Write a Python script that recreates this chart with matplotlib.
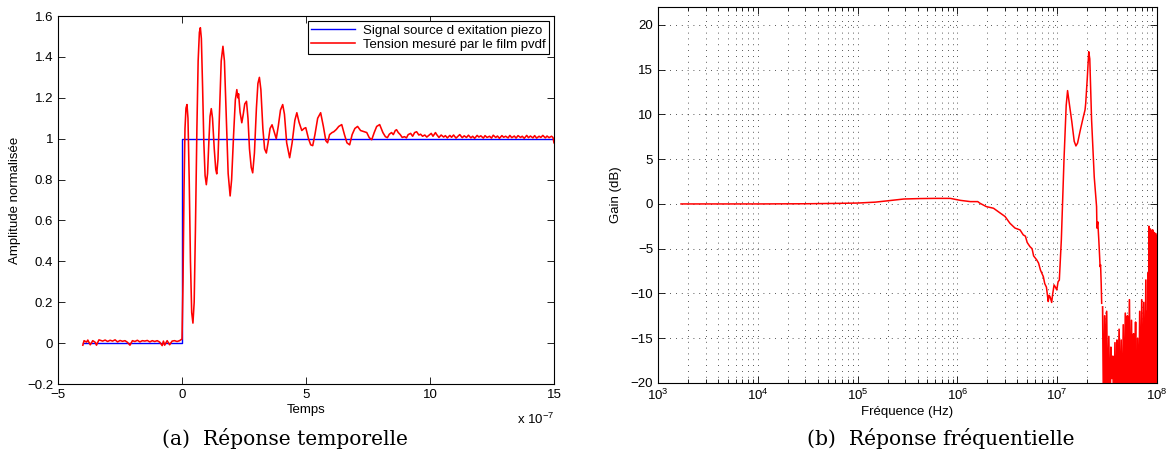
import matplotlib
matplotlib.use("Agg")
import matplotlib.pyplot as plt
from matplotlib.ticker import FuncFormatter, LogLocator, NullFormatter

plt.rcParams['font.family'] = ['Liberation Sans', 'DejaVu Sans']
plt.rcParams['mathtext.fontset'] = 'custom'
plt.rcParams['mathtext.rm'] = 'Liberation Sans'
plt.rcParams['mathtext.it'] = 'Liberation Sans:italic'

# ---- (a) time response, time in units of 1e-7 s ----
t_source = [-4.0, 0.0, 0.0, 15.0]
v_source = [0.0, 0.0, 1.0, 1.0]

t_pvdf = [-4.0, -3.95, -3.85, -3.8, -3.7, -3.6, -3.5, -3.45, -3.35, -3.2,
          -3.1, -3.0, -2.9, -2.8, -2.7, -2.6, -2.5, -2.4, -2.3, -2.2,
          -2.1, -2.0, -1.9, -1.8, -1.7, -1.6, -1.5, -1.4, -1.3, -1.2,
          -1.1, -1.0, -0.9, -0.8, -0.75, -0.7, -0.6, -0.5, -0.4, -0.3,
          -0.2, -0.1, 0.0,
          0.04, 0.08, 0.12, 0.16, 0.2, 0.24, 0.29, 0.34, 0.39, 0.44,
          0.49, 0.54, 0.6, 0.65, 0.7, 0.74, 0.78, 0.83, 0.88, 0.93,
          0.98, 1.03, 1.08, 1.13, 1.18, 1.23, 1.3, 1.36, 1.40, 1.45,
          1.52, 1.58, 1.65, 1.71, 1.78, 1.86, 1.94, 2.0, 2.08, 2.15,
          2.21, 2.25, 2.28, 2.34, 2.41, 2.47, 2.53, 2.6, 2.66, 2.72,
          2.79, 2.85, 2.92, 3.0, 3.06, 3.12, 3.18, 3.26, 3.33, 3.40,
          3.47, 3.55, 3.63, 3.7, 3.8, 3.88, 3.97, 4.06, 4.13, 4.22,
          4.34, 4.44, 4.55, 4.63, 4.72, 4.83, 4.92, 4.99, 5.1, 5.19,
          5.27, 5.36, 5.47, 5.59, 5.7, 5.8, 5.87, 5.95, 6.05, 6.12,
          6.22, 6.32, 6.44, 6.55, 6.65, 6.76, 6.86, 6.97, 7.08, 7.2,
          7.32, 7.45, 7.55, 7.65, 7.75, 7.85, 7.97, 8.1, 8.2,
          8.28, 8.36, 8.45, 8.52, 8.6, 8.65, 8.72, 8.8, 8.88, 8.97,
          9.05, 9.12, 9.22, 9.3, 9.38, 9.46, 9.55, 9.62, 9.7, 9.79,
          9.87, 9.95, 10.05, 10.12, 10.22, 10.27, 10.36, 10.45, 10.55, 10.62,
          10.7, 10.8, 10.87, 10.95, 11.05, 11.13, 11.2, 11.3, 11.38, 11.47,
          11.55, 11.65, 11.72, 11.8, 11.9, 11.97, 12.05, 12.15, 12.22, 12.3,
          12.4, 12.48, 12.55, 12.65, 12.72, 12.8, 12.9, 12.97, 13.05, 13.15,
          13.22, 13.3, 13.4, 13.47, 13.55, 13.65, 13.72, 13.8, 13.9, 13.97,
          14.05, 14.15, 14.22, 14.3, 14.4, 14.47, 14.55, 14.65, 14.72, 14.8,
          14.9, 14.96, 15.0]
v_pvdf = [-0.01, 0.012, 0.005, 0.015, -0.008, 0.012, 0.004, -0.01, 0.016, 0.01,
          0.015, 0.008, 0.014, 0.01, 0.016, 0.006, 0.013, 0.009, 0.012, 0.004,
          -0.01, 0.012, 0.008, 0.014, 0.006, 0.012, 0.01, 0.013, 0.006, 0.012,
          0.008, 0.012, 0.005, -0.012, 0.01, -0.01, 0.012, -0.008, 0.01, 0.012,
          0.008, 0.012, 0.02,
          0.3, 0.75, 1.05, 1.15, 1.167, 1.1, 0.8, 0.4, 0.15, 0.098,
          0.2, 0.55, 1.05, 1.38, 1.52, 1.543, 1.49, 1.25, 0.98, 0.82,
          0.775, 0.83, 0.98, 1.11, 1.147, 1.1, 0.95, 0.85, 0.828, 0.9,
          1.15, 1.38, 1.452, 1.38, 1.12, 0.83, 0.72, 0.8, 1.02, 1.19,
          1.24, 1.2, 1.22, 1.13, 1.078, 1.12, 1.17, 1.183, 1.1, 0.95,
          0.86, 0.833, 0.93, 1.15, 1.27, 1.30, 1.24, 1.05, 0.95, 0.93,
          0.98, 1.05, 1.068, 1.04, 1.0, 1.06, 1.14, 1.167, 1.12, 0.98,
          0.907, 0.98, 1.09, 1.127, 1.08, 1.04, 1.05, 1.054, 1.0, 0.97,
          0.966, 1.02, 1.1, 1.127, 1.06, 0.99, 0.98, 1.02, 1.03, 1.034,
          1.045, 1.06, 1.069, 1.02, 0.98, 0.97, 1.02, 1.05, 1.06, 1.04,
          1.035, 1.03, 1.005, 0.995, 1.03, 1.06, 1.069, 1.03, 1.01,
          1.005, 1.022, 1.03, 1.02, 1.04, 1.044, 1.03, 1.02, 1.006, 1.01,
          1.004, 1.02, 1.026, 1.012, 1.03, 1.034, 1.018, 1.022, 1.012, 1.018,
          1.008, 1.016, 1.026, 1.012, 1.03, 1.02, 1.006, 1.018, 1.008, 1.015,
          1.004, 1.016, 1.007, 1.018, 1.003, 1.012, 1.02, 1.005, 1.014, 1.006,
          1.017, 1.004, 1.012, 1.002, 1.016, 1.008, 1.014, 1.003, 1.015, 1.006,
          1.012, 1.003, 1.017, 1.006, 1.013, 1.002, 1.015, 1.007, 1.012, 1.004,
          1.016, 1.005, 1.013, 1.003, 1.015, 1.006, 1.012, 1.002, 1.016, 1.005,
          1.013, 1.004, 1.015, 1.003, 1.012, 1.006, 1.016, 1.004, 1.013, 1.005,
          1.012, 1.006, 0.98]

# ---- (b) frequency response ----
freq_hz = [1.7e3, 1e4, 3e4, 6e4, 1e5, 1.5e5, 2e5, 2.9e5, 4.2e5, 6e5,
           8.5e5, 1.07e6, 1.35e6, 1.6e6, 1.68e6, 1.95e6, 2.3e6, 2.67e6, 3.0e6, 3.36e6,
           3.78e6, 4.24e6, 4.57e6, 4.8e6, 5.0e6, 5.33e6, 5.6e6, 5.8e6, 6.24e6, 6.5e6,
           6.8e6, 7.26e6, 7.5e6, 7.8e6, 8.0e6, 8.13e6, 8.3e6, 8.5e6, 8.8e6, 9.0e6,
           9.3e6, 9.6e6, 9.9e6, 1.02e7, 1.05e7, 1.1e7, 1.17e7, 1.23e7, 1.27e7, 1.33e7,
           1.4e7, 1.48e7, 1.54e7, 1.6e7, 1.7e7, 1.83e7, 1.9e7, 1.93e7, 2.0e7, 2.07e7,
           2.12e7, 2.21e7, 2.35e7, 2.48e7, 2.5e7, 2.55e7, 2.61e7, 2.65e7, 2.69e7, 2.72e7,
           2.76e7, 2.79e7]
gain_db = [0.0, 0.0, 0.02, 0.06, 0.1, 0.2, 0.35, 0.55, 0.6, 0.62,
           0.62, 0.4, 0.26, 0.26, 0.08, -0.3, -0.48, -1.0, -1.4, -2.16,
           -2.7, -2.9, -3.46, -3.6, -4.3, -4.77, -5.0, -5.8, -6.26, -6.6,
           -7.4, -8.12, -8.9, -9.3, -10.3, -10.9, -10.2, -10.4, -11.0, -10.1,
           -9.05, -9.3, -9.6, -8.7, -8.5, -4.0, 5.0, 11.0, 12.66, 11.0,
           9.2, 7.0, 6.48, 6.8, 8.2, 9.76, 10.5, 11.25, 14.0, 17.0,
           16.2, 9.39, 3.0, -0.3, -2.7, -2.0, -4.0, -5.5, -7.0, -6.8,
           -9.0, -11.1]

# noisy tail above ~28 MHz (MHz, dB)
noise_mhz = [28.5, 29.2, 29.9, 30.6, 31.3, 32.1, 32.9, 33.7, 34.5, 35.3,
             36.1, 37.0, 37.9, 38.8, 39.7, 40.7, 41.7, 42.7, 43.7, 44.8,
             45.9, 47.0, 48.1, 49.3, 50.5, 51.7, 52.9, 54.2, 55.5, 56.8,
             58.2, 59.6, 61.0, 62.5, 64.0, 65.5, 67.1, 68.7, 70.3, 72.0,
             73.7, 75.5, 77.3, 79.0, 80.0, 80.8, 81.5, 82.2, 82.9, 83.6,
             84.3, 85.0, 85.8, 86.5, 87.3, 88.1, 88.9, 89.6, 90.4, 91.2,
             92.0, 92.8, 93.6, 94.4, 95.2, 96.0, 96.8, 97.6, 98.4, 99.2,
             100.0]
noise_db = [-11.5, -25, -12.5, -21, -12.0, -25, -14.8, -25, -16.0, -19.5,
            -17.0, -25, -15.5, -25, -15.2, -21, -14.0, -25, -15.2, -25,
            -13.5, -25, -12.2, -20, -12.5, -25, -10.7, -25, -13.0, -25,
            -14.5, -20.5, -13.2, -25, -15.0, -25, -12.0, -25, -10.7, -25,
            -11.0, -25, -8.5, -25, -12.0, -24, -7.7, -24, -2.5, -24,
            -4.5, -24, -2.8, -24, -3.0, -24, -3.5, -24, -2.9, -24,
            -4.0, -24, -3.2, -24, -3.6, -24, -3.3, -24, -3.6, -24,
            -3.6]

fs = 9.5


def matlab_fmt(val, pos):
    return ('%g' % val).replace('-', '\u2212')


fig = plt.figure(figsize=(11.7, 4.69), dpi=100)

ax1 = fig.add_axes([0.0496, 0.1812, 0.4239, 0.7846])
ax1.plot(t_source, v_source, color='#0000ff', lw=1.0, label='Signal source d exitation piezo')
ax1.plot(t_pvdf, v_pvdf, color='#ff0000', lw=1.15, label='Tension mesuré par le film pvdf')
ax1.set_xlim(-5, 15)
ax1.set_ylim(-0.2, 1.6)
ax1.set_xticks([-5, 0, 5, 10, 15])
ax1.set_yticks([-0.2, 0, 0.2, 0.4, 0.6, 0.8, 1.0, 1.2, 1.4, 1.6])
ax1.xaxis.set_major_formatter(FuncFormatter(matlab_fmt))
ax1.yaxis.set_major_formatter(FuncFormatter(matlab_fmt))
ax1.tick_params(direction='in', top=True, right=True, length=5, width=0.6, labelsize=fs)
ax1.set_xlabel('Temps', fontsize=fs, labelpad=2)
ax1.set_ylabel('Amplitude normalisée', fontsize=fs, labelpad=4)
ax1.text(1.0, -0.095, 'x 10$^{-7}$', transform=ax1.transAxes, ha='right', va='center', fontsize=fs)
leg = ax1.legend(loc='upper right', fontsize=fs, fancybox=False, edgecolor='k', framealpha=1,
                 borderaxespad=0.4, handlelength=3.3, labelspacing=0.15, borderpad=0.25,
                 handletextpad=0.6)
leg.get_frame().set_linewidth(0.8)

ax2 = fig.add_axes([0.5624, 0.1834, 0.4265, 0.8017])
ax2.semilogx(freq_hz, gain_db, color='#ff0000', lw=1.1)
ax2.semilogx([m * 1e6 for m in noise_mhz], noise_db, color='#ff0000', lw=1.2)
ax2.set_xlim(1e3, 1e8)
ax2.set_ylim(-20, 22)
ax2.set_yticks([-20, -15, -10, -5, 0, 5, 10, 15, 20])
ax2.yaxis.set_major_formatter(FuncFormatter(matlab_fmt))
ax2.xaxis.set_major_locator(LogLocator(base=10, numticks=10))
ax2.xaxis.set_minor_locator(LogLocator(base=10, subs=range(2, 10), numticks=50))
ax2.xaxis.set_minor_formatter(NullFormatter())
ax2.tick_params(which='both', direction='in', top=True, right=True, width=0.6, labelsize=fs)
ax2.tick_params(which='major', length=5)
ax2.tick_params(which='minor', length=3)
grid_style = dict(color='#202020', lw=0.6, linestyle=(0, (1, 6)))
ax2.grid(True, which='major', axis='both', **grid_style)
ax2.grid(True, which='minor', axis='x', **grid_style)
ax2.set_axisbelow(True)
ax2.set_xlabel('Fréquence (Hz)', fontsize=fs, labelpad=2)
ax2.set_ylabel('Gain (dB)', fontsize=fs, labelpad=6)

for ax in (ax1, ax2):
    for sp in ax.spines.values():
        sp.set_linewidth(0.8)

fig.text(0.2436, 0.066, '(a)  Réponse temporelle', ha='center', va='center',
         family='DejaVu Serif', fontsize=14.6)
fig.text(0.804, 0.066, '(b)  Réponse fréquentielle', ha='center', va='center',
         family='DejaVu Serif', fontsize=14.6)

fig.savefig('out.png', dpi=100)
